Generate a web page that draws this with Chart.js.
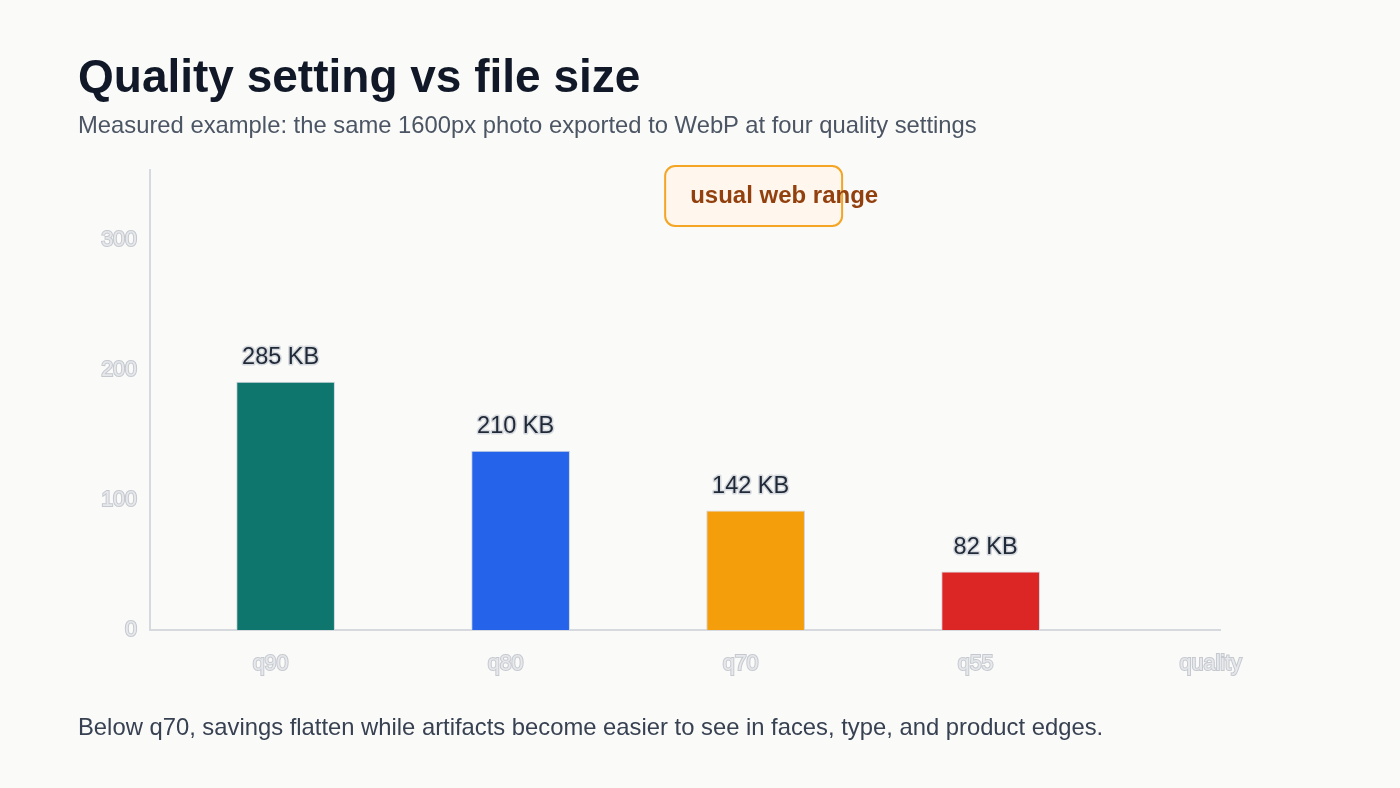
<!DOCTYPE html>
<html>
<head>
<meta charset="utf-8">
<script src="https://cdn.jsdelivr.net/npm/chart.js@4.4.1/dist/chart.umd.min.js"></script>
<style>
    html, body { margin: 0; padding: 0; background: #fafaf9; }
    body { width: 1400px; height: 788px; position: relative; overflow: hidden; font-family: "Liberation Sans", Arial, sans-serif; }
    .title { position: absolute; left: 78px; top: 53px; font-size: 46px; line-height: 46px; font-weight: bold; color: #111827; white-space: nowrap; }
    .subtitle { position: absolute; left: 78px; top: 113px; font-size: 23.8px; line-height: 24px; color: #4b5563; white-space: nowrap; }
    .note { position: absolute; left: 78px; top: 715px; font-size: 23.8px; line-height: 24px; color: #374151; white-space: nowrap; }
    .chart-wrap { position: absolute; left: 0; top: 0; width: 1400px; height: 788px; }
</style>
</head>
<body>
<div class="chart-wrap"><canvas id="qualityChart"></canvas></div>
<div class="title">Quality setting vs file size</div>
<div class="subtitle">Measured example: the same 1600px photo exported to WebP at four quality settings</div>
<div class="note">Below q70, savings flatten while artifacts become easier to see in faces, type, and product edges.</div>
<script>
// Chart data
const qualityLabels = ['q90', 'q80', 'q70', 'q55'];
const axisLabels = ['q90', 'q80', 'q70', 'q55', 'quality'];
const barHeights = [191, 138, 92, 45];
const sizeLabels = ['285 KB', '210 KB', '142 KB', '82 KB'];
const barColors = ['#0f766e', '#2563eb', '#f59e0b', '#dc2626'];
const yTicks = [0, 100, 200, 300];
const webRangeX = [1.615, 2.368];
const webRangeY = [311, 357];

const tickStyle = {
    color: '#e6e8eb',
    textStrokeColor: '#c5c9cf',
    textStrokeWidth: 2,
    font: { family: 'Liberation Sans', size: 21.5 }
};

// Value labels above bars
const barLabelPlugin = {
    id: 'barLabels',
    afterDatasetsDraw(chart) {
        const ctx = chart.ctx;
        const meta = chart.getDatasetMeta(0);
        ctx.save();
        ctx.font = '23.5px "Liberation Sans"';
        ctx.textAlign = 'center';
        ctx.textBaseline = 'middle';
        ctx.lineJoin = 'round';
        meta.data.forEach((bar, i) => {
            ctx.lineWidth = 3;
            ctx.strokeStyle = '#d6d9dd';
            ctx.strokeText(sizeLabels[i], bar.x - 5, bar.y - 24);
            ctx.fillStyle = '#1f2937';
            ctx.fillText(sizeLabels[i], bar.x - 5, bar.y - 24);
        });
        ctx.restore();
    }
};

// "usual web range" callout
const rangeBoxPlugin = {
    id: 'rangeBox',
    afterDraw(chart) {
        const ctx = chart.ctx;
        const x = chart.scales.x;
        const y = chart.scales.y;
        const left = x.getPixelForValue(webRangeX[0]);
        const right = x.getPixelForValue(webRangeX[1]);
        const top = y.getPixelForValue(webRangeY[1]);
        const bottom = y.getPixelForValue(webRangeY[0]);
        ctx.save();
        ctx.beginPath();
        ctx.roundRect(left, top, right - left, bottom - top, 10);
        ctx.fillStyle = '#fff7ed';
        ctx.fill();
        ctx.lineWidth = 2;
        ctx.strokeStyle = '#f5a524';
        ctx.stroke();
        ctx.font = 'bold 24px "Liberation Sans"';
        ctx.fillStyle = '#92400e';
        ctx.textAlign = 'left';
        ctx.textBaseline = 'middle';
        ctx.fillText('usual web range', left + 25, (top + bottom) / 2);
        ctx.restore();
    }
};

document.addEventListener('DOMContentLoaded', function() {
    const ctx = document.getElementById('qualityChart');
    new Chart(ctx.getContext('2d'), {
        type: 'bar',
        data: {
            datasets: [{
                label: 'File size',
                data: barHeights.map((v, i) => ({ x: i, y: v })),
                backgroundColor: barColors,
                borderColor: '#cfd5dd',
                borderWidth: 1,
                barPercentage: 0.42,
                categoryPercentage: 1
            }]
        },
        options: {
            responsive: true,
            maintainAspectRatio: false,
            animation: false,
            layout: { padding: { top: 170, right: 180, bottom: 98, left: 0 } },
            plugins: {
                legend: { display: false },
                tooltip: { enabled: false }
            },
            scales: {
                x: {
                    type: 'linear',
                    offset: false,
                    min: -0.577,
                    max: 3.976,
                    grid: { display: false, offset: false },
                    border: { display: true, color: '#d6d9de', width: 2 },
                    afterBuildTicks: scale => {
                        scale.ticks = axisLabels.map((_, i) => ({ value: i }));
                    },
                    afterFit: scale => { scale.height = 60; },
                    ticks: Object.assign({}, tickStyle, {
                        autoSkip: false,
                        maxRotation: 0,
                        padding: 13,
                        labelOffset: -15,
                        callback: (v, i) => axisLabels[i]
                    })
                },
                y: {
                    min: 0,
                    max: 354,
                    grid: { display: false },
                    border: { display: true, color: '#d6d9de', width: 2 },
                    afterBuildTicks: scale => {
                        scale.ticks = yTicks.map(v => ({ value: v }));
                    },
                    afterFit: scale => { scale.width = 150; },
                    ticks: Object.assign({}, tickStyle, { padding: 5 })
                }
            }
        },
        plugins: [barLabelPlugin, rangeBoxPlugin]
    });
});
</script>
</body>
</html>
